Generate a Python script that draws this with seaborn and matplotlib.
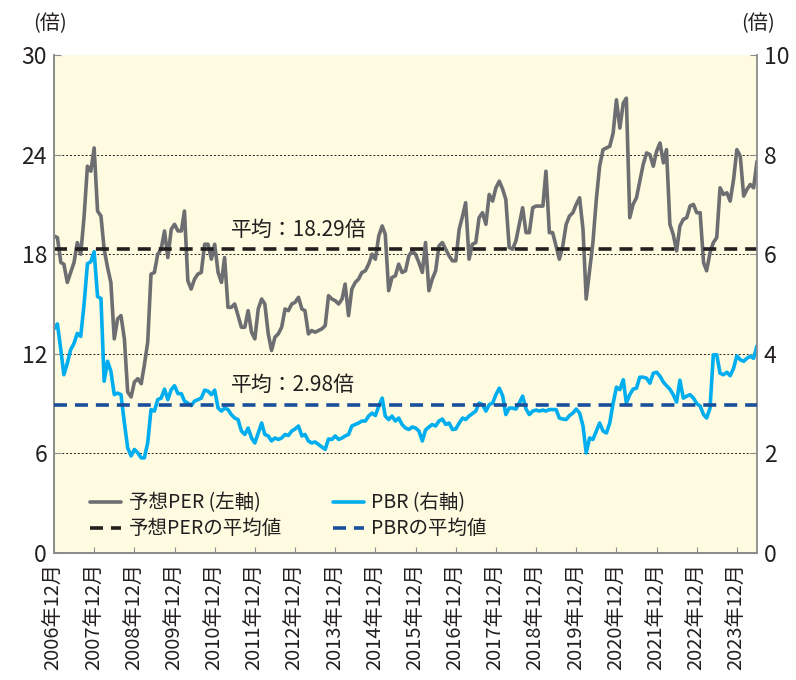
import numpy as np
import pandas as pd
import matplotlib
matplotlib.use('Agg')
import matplotlib.pyplot as plt
import seaborn as sns

# 予想PER (left axis), monthly from 2006/12
per = [
    19.1, 19.0, 17.5, 17.4, 16.3, 16.9, 17.5, 18.7, 18.0, 20.3, 23.3, 23.0,
    24.4, 20.6, 20.3, 18.3, 17.2, 16.3, 12.9, 14.1, 14.3, 12.9, 9.7, 9.4,
    10.3, 10.5, 10.2, 11.3, 12.7, 16.8, 16.9, 18.0, 18.3, 19.4, 17.8, 19.5,
    19.8, 19.4, 19.4, 20.6, 16.4, 15.9, 16.5, 16.8, 16.9, 18.6, 18.6, 17.7,
    18.6, 16.9, 16.3, 17.8, 14.8, 14.8, 15.0, 14.3, 13.6, 13.6, 14.6, 13.3,
    12.9, 14.7, 15.3, 15.0, 13.2, 12.2, 13.0, 13.2, 13.6, 14.7, 14.6, 15.0,
    15.1, 15.4, 14.7, 14.6, 13.2, 13.4, 13.3, 13.4, 13.5, 13.7, 15.5, 15.3,
    15.2, 15.0, 15.3, 16.2, 14.3, 15.9, 16.3, 16.5, 16.9, 17.0, 17.4, 18.0,
    17.7, 19.1, 19.7, 19.2, 15.8, 16.6, 16.7, 17.4, 16.9, 17.0, 17.9, 18.2,
    18.0, 17.5, 16.9, 18.7, 15.8, 16.5, 17.0, 18.5, 18.7, 18.3, 17.9, 17.6,
    17.6, 19.5, 20.3, 21.1, 17.7, 18.6, 18.7, 20.2, 20.5, 19.8, 21.6, 21.2,
    22.0, 22.4, 21.9, 21.3, 18.4, 18.3, 18.8, 19.8, 20.8, 19.3, 19.3, 20.8,
    20.9, 20.9, 20.9, 23.0, 19.3, 19.3, 18.5, 17.7, 18.5, 19.8, 20.3, 20.5,
    21.0, 21.4, 19.5, 15.3, 17.0, 18.7, 21.3, 23.3, 24.3, 24.4, 24.5, 25.3,
    27.3, 25.6, 27.1, 27.4, 20.2, 21.0, 21.4, 22.4, 23.4, 24.1, 24.0, 23.3,
    24.2, 24.7, 23.5, 24.3, 19.8, 19.2, 18.2, 19.7, 20.1, 20.2, 20.9, 21.0,
    20.5, 20.5, 17.5, 17.0, 18.1, 18.7, 19.0, 22.0, 21.6, 21.7, 21.2, 22.5,
    24.3, 23.9, 21.5, 21.9, 22.2, 22.0, 23.6,
]

# PBR (right axis)
pbr = [
    4.50, 4.60, 4.08, 3.58, 3.81, 4.08, 4.21, 4.41, 4.35, 5.01, 5.81, 5.85,
    6.05, 5.15, 5.11, 3.45, 3.85, 3.65, 3.18, 3.21, 3.18, 2.61, 2.11, 1.95,
    2.08, 2.01, 1.91, 1.91, 2.21, 2.88, 2.85, 3.08, 3.11, 3.29, 3.08, 3.28,
    3.36, 3.20, 3.20, 3.05, 3.01, 2.96, 3.05, 3.08, 3.11, 3.27, 3.25, 3.18,
    3.27, 2.91, 2.85, 2.91, 2.88, 2.78, 2.71, 2.68, 2.45, 2.38, 2.51, 2.31,
    2.21, 2.41, 2.61, 2.38, 2.35, 2.25, 2.31, 2.28, 2.31, 2.38, 2.36, 2.45,
    2.49, 2.55, 2.35, 2.38, 2.25, 2.21, 2.23, 2.18, 2.13, 2.08, 2.29, 2.28,
    2.35, 2.28, 2.31, 2.35, 2.38, 2.55, 2.58, 2.61, 2.65, 2.65, 2.75, 2.81,
    2.76, 2.95, 3.11, 2.75, 2.68, 2.75, 2.65, 2.71, 2.58, 2.51, 2.48, 2.53,
    2.51, 2.45, 2.25, 2.47, 2.53, 2.58, 2.55, 2.65, 2.69, 2.58, 2.61, 2.48,
    2.49, 2.61, 2.71, 2.68, 2.75, 2.80, 2.85, 3.01, 2.98, 2.85, 2.98, 3.01,
    3.18, 3.31, 3.15, 2.78, 2.91, 2.91, 2.89, 3.01, 3.15, 2.89, 2.78, 2.85,
    2.87, 2.85, 2.87, 2.85, 2.88, 2.88, 2.88, 2.71, 2.69, 2.68, 2.76, 2.81,
    2.89, 2.81, 2.55, 2.01, 2.31, 2.28, 2.45, 2.61, 2.45, 2.41, 2.61, 3.01,
    3.33, 3.28, 3.48, 3.01, 3.18, 3.29, 3.31, 3.53, 3.53, 3.51, 3.41, 3.61,
    3.63, 3.55, 3.43, 3.36, 3.29, 3.18, 3.03, 3.47, 3.11, 3.15, 3.18, 3.11,
    3.00, 2.95, 2.78, 2.71, 2.91, 3.98, 3.98, 3.61, 3.58, 3.63, 3.56, 3.71,
    3.96, 3.88, 3.85, 3.91, 3.95, 3.91, 4.16,
]

per_avg = 18.29
pbr_avg = 2.98
per_ticks = [0, 6, 12, 18, 24, 30]
pbr_ticks = [0, 2, 4, 6, 8, 10]

dates = pd.date_range('2006-12-01', periods=len(per), freq='MS')
df = pd.DataFrame({'date': dates, 'per': per, 'pbr': pbr})

sns.set_style('ticks')
plt.rcParams['font.family'] = ['Noto Sans CJK JP', 'DejaVu Sans']

TXT = '#231f20'
SPINE = '#8c8c8c'
BG = '#fefbe0'

fig = plt.figure(figsize=(7.96, 6.8), dpi=100)
ax = fig.add_axes([54 / 796, 127 / 680, 703 / 796, 498 / 680])
ax2 = ax.twinx()

sns.lineplot(data=df, x='date', y='per', ax=ax, color='#6d6e71', lw=2.6,
             label='予想PER (左軸)', zorder=2)
ax.axhline(per_avg, color=TXT, lw=2.6, ls=(0, (3.6, 2.2)),
           label='予想PERの平均値', zorder=3)
sns.lineplot(data=df, x='date', y='pbr', ax=ax2, color='#00aeef', lw=2.6,
             label='PBR (右軸)', zorder=2)
ax2.axhline(pbr_avg, color='#1a4f9c', lw=2.6, ls=(0, (3.6, 2.2)),
            label='PBRの平均値', zorder=3)

for a in (ax, ax2):
    if a.get_legend() is not None:
        a.get_legend().remove()

ax.set_facecolor(BG)
ax2.patch.set_visible(False)

ax.set_ylim(0, 30)
ax.set_yticks(per_ticks)
ax2.set_ylim(0, 10)
ax2.set_yticks(pbr_ticks)
ax.set_xlim(dates[0], dates[-1])

xt = dates[::12][:18]
ax.set_xticks(xt)
ax.set_xticklabels([f'{d.year}年12月' for d in xt], rotation=90)

ax.yaxis.grid(True, color=TXT, lw=0.7, ls=(0, (2, 2)))
gl = ax.get_ygridlines()
gl[0].set_visible(False)
gl[-1].set_visible(False)

for a in (ax, ax2):
    a.set_xlabel('')
    a.set_ylabel('')
    a.spines['top'].set_visible(False)
    for s in ('left', 'right', 'bottom'):
        a.spines[s].set_color(SPINE)
        a.spines[s].set_linewidth(1.3)
ax.spines['right'].set_visible(False)

ax.tick_params(axis='y', direction='in', length=5, color=SPINE,
               labelsize=16.5, labelcolor=TXT, pad=5)
ax.tick_params(axis='x', direction='in', length=4, color=SPINE,
               labelsize=14.5, labelcolor=TXT, pad=7)
ax2.tick_params(axis='y', direction='in', length=5, color=SPINE,
                labelsize=16.5, labelcolor=TXT, pad=5)

ax.text(dates[53], 19.45, '平均：18.29倍', fontsize=15, color=TXT,
        va='center', ha='left')
ax2.text(dates[53], 3.37, '平均：2.98倍', fontsize=15, color=TXT,
         va='center', ha='left')

fig.text(50 / 796, 1 - 24 / 680, '(倍)', fontsize=14.5, color=TXT,
         ha='center', va='center')
fig.text(758 / 796, 1 - 24 / 680, '(倍)', fontsize=14.5, color=TXT,
         ha='center', va='center')

h1, l1 = ax.get_legend_handles_labels()
h2, l2 = ax2.get_legend_handles_labels()
handles = [h1[0], h1[1], h2[0], h2[1]]
labels = [l1[0], l1[1], l2[0], l2[1]]
ax2.legend(handles, labels, ncol=2, loc='upper left',
           bbox_to_anchor=(0.04, 0.137), frameon=False, fontsize=14,
           handlelength=1.6, handletextpad=0.4, columnspacing=2.6,
           labelspacing=0.25, borderaxespad=0, labelcolor=TXT)

fig.savefig('out.png', dpi=100, facecolor='white')
